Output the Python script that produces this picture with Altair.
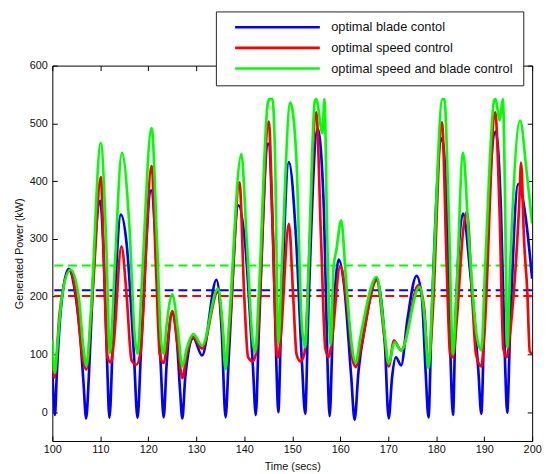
import altair as alt
import pandas as pd

series_names = ["optimal blade contol", "optimal speed control", "optimal speed and blade control"]
series_colors = ["#0000ff", "#ff0000", "#00ff00"]

blade_t = [100.0, 100.25, 100.55, 100.9, 101.8, 103.4, 104.6, 106.0, 106.5, 107.05, 107.6, 108.5, 110.0, 110.7, 111.4, 111.9, 112.6,
           114.3, 115.5, 117.0, 117.75, 118.5, 120.6, 121.5, 122.6, 123.2, 123.8, 125.0, 126.0, 126.6, 127.1, 127.7,
           129.4, 131.2, 134.2, 135.3, 136.1, 136.8, 138.8, 140.2, 141.8, 142.4, 143.0, 145.0, 146.0, 146.7, 147.1,
           147.6, 149.3, 150.8, 152.0, 152.7, 153.3, 155.3, 156.6, 157.3, 157.8, 158.4, 159.7, 160.8, 162.3, 163.0,
           163.8, 165.2, 167.6, 169.3, 170.1, 170.8, 171.6, 172.7, 174.0, 175.9, 177.0, 177.8, 178.4, 179.0, 181.2,
           182.3, 183.0, 183.5, 184.0, 185.6, 187.0, 188.8, 189.4, 190.0, 192.4, 193.5, 194.3, 194.8, 195.4, 197.1,
           198.6, 200.0]
blade_v = [70, 25, -5, 60, 180, 248, 215, 110, 50, -11, 60, 230, 366, 270, 90, -10, 120,
           342, 290, 100, -10, 110, 384, 300, 80, -9, 80, 172, 120, 40, -11, 60,
           128, 98, 229, 140, -9, 100, 358, 290, 80, -5, 130, 465, 300, 80, 0,
           130, 433, 300, 90, -3, 160, 491, 350, 100, -7, 130, 264, 220, 60, -13,
           70, 150, 231, 120, -11, 60, 95, 81, 160, 236, 200, 70, -9, 150, 474,
           330, 90, -5, 150, 344, 250, 70, -3, 150, 486, 350, 100, -1, 140, 395,
           340, 231]

speed_t = [100.0, 100.5, 101.5, 103.6, 105.0, 106.4, 107.1, 108.5, 110.1, 110.8, 111.5, 112.2, 112.8, 114.4, 115.5,
           116.5, 117.5, 118.3, 120.7, 121.6, 122.4, 123.2, 123.8, 125.0, 126.2, 127.1, 128.0, 129.4, 131.2, 134.5,
           135.5, 136.1, 137.0, 139.0, 140.0, 140.8, 141.8, 142.6, 145.1, 146.0, 146.8, 147.1, 147.6, 149.3, 150.2,
           150.9, 151.7, 152.5, 155.0, 156.0, 156.9, 157.6, 158.2, 160.0, 161.5, 162.6, 163.3, 164.0, 167.6, 169.2,
           170.1, 171.2, 172.7, 176.3, 177.5, 178.4, 179.2, 181.2, 182.2, 182.9, 183.5, 184.2, 185.7, 186.4, 187.5,
           188.3, 189.4, 190.0, 192.3, 193.2, 194.0, 194.7, 195.3, 197.3, 197.7, 198.3, 199.0, 199.5, 200.0]
speed_v = [75, 60, 170, 245, 200, 90, 74, 220, 407, 250, 95, 86, 120, 287, 200,
           90, 82, 100, 426, 250, 100, 85, 110, 175, 110, 59, 100, 130, 110, 208,
           140, 76, 150, 398, 200, 95, 88, 110, 503, 300, 100, 95, 130, 326, 200,
           100, 88, 100, 519, 300, 110, 95, 120, 253, 180, 90, 78, 100, 228, 130,
           79, 124, 107, 220, 180, 79, 160, 502, 250, 100, 95, 150, 320, 347, 200,
           100, 79, 130, 519, 350, 110, 95, 130, 360, 432, 300, 207, 105, 101]

both_t = [100.0, 100.5, 101.0, 102.0, 103.8, 105.5, 106.5, 107.1, 108.0, 110.1, 111.2, 112.0, 113.0, 114.5, 116.0,
          117.2, 117.8, 118.5, 120.7, 121.8, 122.7, 123.2, 123.8, 125.0, 126.2, 127.1, 128.0, 129.4, 131.2, 134.5,
          135.5, 136.1, 136.8, 139.4, 140.5, 141.8, 142.3, 143.0, 144.9, 145.2, 145.9, 146.4, 147.1, 147.8, 149.6,
          150.8, 152.0, 152.7, 153.4, 154.7, 155.0, 156.3, 156.7, 157.3, 158.0, 158.6, 159.2, 160.2, 161.2, 162.5,
          163.2, 164.2, 167.6, 169.2, 170.1, 171.3, 172.7, 176.5, 177.5, 178.4, 179.2, 181.3, 181.7, 182.6, 183.5,
          184.2, 185.6, 186.8, 188.5, 189.4, 190.2, 192.1, 192.4, 193.2, 193.9, 194.3, 194.8, 195.4, 197.5, 198.8,
          200.0]
both_v = [125, 68, 110, 200, 247, 200, 110, 80, 170, 466, 300, 102, 250, 449, 330,
          130, 101, 200, 492, 300, 120, 101, 150, 204, 140, 79, 110, 135, 115, 214,
          150, 74, 150, 447, 300, 120, 104, 200, 535, 542, 542, 450, 118, 250, 536,
          450, 150, 112, 250, 538, 542, 483, 542, 300, 116, 250, 281, 332, 230, 110,
          85, 130, 234, 140, 84, 121, 107, 217, 170, 76, 200, 542, 542, 350, 100,
          200, 449, 300, 130, 107, 250, 540, 542, 505, 542, 400, 112, 250, 505, 420,
          327]

mean_values = [211, 201, 254]

x_ticks = [100, 110, 120, 130, 140, 150, 160, 170, 180, 190, 200]
y_ticks = [0, 100, 200, 300, 400, 500, 600]

rows = []
for name, ts, vs in zip(series_names, [blade_t, speed_t, both_t], [blade_v, speed_v, both_v]):
    for t, v in zip(ts, vs):
        rows.append({"series": name, "time": t, "power": v})
df = pd.DataFrame(rows)
means_df = pd.DataFrame({"series": series_names, "mean": mean_values})

xscale = alt.Scale(domain=[100, 200], nice=False, zero=False)
yscale = alt.Scale(domain=[-50, 600], nice=False, zero=False)
cscale = alt.Scale(domain=series_names, range=series_colors)

axis_common = dict(domain=False, grid=False, ticks=True, tickSize=5, offset=-5,
                   tickColor="#000", tickWidth=1, labelFlush=False, labelOverlap=False)

x_bottom = alt.Axis(orient="bottom", values=x_ticks, labelPadding=3, title="Time (secs)",
                    titlePadding=6, **axis_common)
y_left = alt.Axis(orient="left", values=y_ticks, labelPadding=5, title="Generated Power (kW)",
                  titlePadding=5, **axis_common)
x_top = alt.Axis(orient="top", values=x_ticks, labels=False, title=None, **axis_common)
y_right = alt.Axis(orient="right", values=y_ticks, labels=False, title=None, **axis_common)

layers = []
for i, name in enumerate(series_names):
    layer = alt.Chart(df).transform_filter(alt.datum.series == name).mark_line(
        interpolate="monotone", strokeWidth=2.7, clip=True
    ).encode(
        x=alt.X("time:Q", scale=xscale, axis=x_bottom if i == 0 else None),
        y=alt.Y("power:Q", scale=yscale, axis=y_left if i == 0 else None),
        color=alt.Color("series:N", scale=cscale, title=None),
    )
    layers.append(layer)

means = alt.Chart(means_df).mark_rule(strokeDash=[9, 5], strokeWidth=2).encode(
    y=alt.Y("mean:Q", scale=yscale, axis=y_right),
    color=alt.Color("series:N", scale=cscale, title=None),
)

top_axis = alt.Chart(df).mark_point(opacity=0).encode(
    x=alt.X("time:Q", scale=xscale, axis=x_top),
)

chart = alt.layer(means, *layers, top_axis).properties(
    width=487, height=381,
    autosize=alt.AutoSizeParams(type="none"),
    padding={"left": 45, "top": 55, "right": 10, "bottom": 30},
).configure_view(
    stroke="#000", strokeWidth=1
).configure_axis(
    labelFont="Liberation Sans", titleFont="Liberation Sans",
    labelFontSize=11, titleFontSize=11, labelColor="#111", titleColor="#111",
    titleFontWeight="normal",
).configure_legend(
    orient="none", legendX=166, legendY=-55,
    strokeColor="#222", fillColor="#ffffff", padding=10, cornerRadius=0,
    symbolType="stroke", symbolSize=7396, symbolStrokeWidth=2.6, symbolOffset=8,
    clipHeight=12, rowPadding=8,
    labelFont="Liberation Sans", labelFontSize=13, labelColor="#111", labelOffset=10,
    labelLimit=400,
)

chart.save("out.html", embed_options={"renderer": "svg", "actions": False})
